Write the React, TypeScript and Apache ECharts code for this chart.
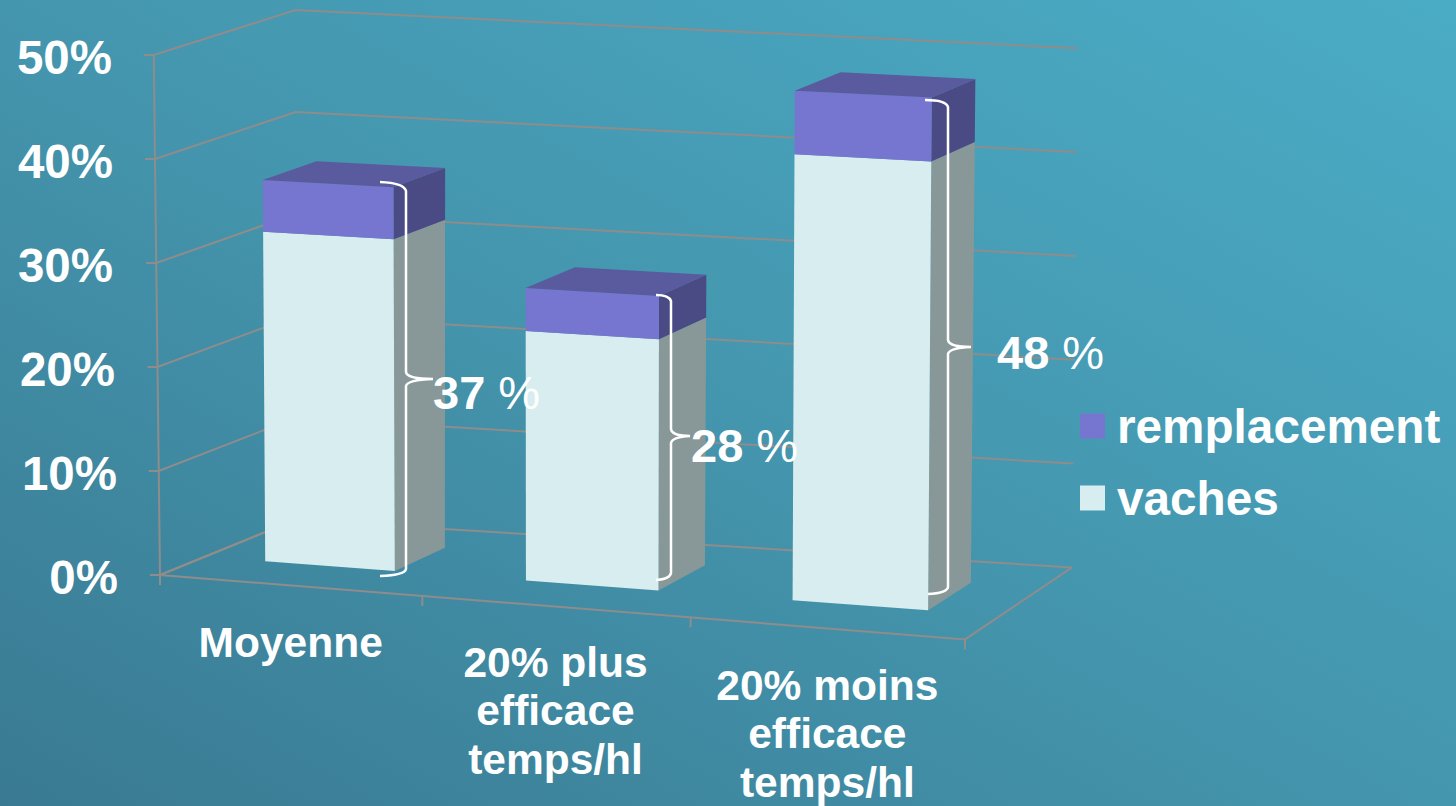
import React, { useEffect, useRef } from "react";
import * as echarts from "echarts";

const categories = ["Moyenne", "20% plus\nefficace\ntemps/hl", "20% moins\nefficace\ntemps/hl"];
const vaches = [31.8, 23.8, 42];
const remplacement = [5, 4.1, 6];
const totals = [37, 28, 48];
const yTicks = [0, 10, 20, 30, 40, 50];

const FONT = "Liberation Sans";
const lerp = (a: number, b: number, t: number) => a + (b - a) * t;

// 3D look: maps (category position, value, depth) onto the page through the cartesian axes.
function projector(api: any) {
  const c0 = api.coord([0, 0]);
  const band = api.size([1, 0])[0];
  const left = c0[0] - band / 2;
  const width = band * 3;
  return (u: number, v: number, d: number) => {
    const X = left + band * u + 3 * u * (u - 3);
    const t = v / 50;
    const f = (X - left) / width;
    const x = X + (X - 660) * 0.0125 * t + d * lerp(lerp(135, 142, t), lerp(107, 109, t), f);
    const y = api.coord([0, v])[1] + (X - left) * (0.08 - 0.0006 * v) + d * lerp(lerp(-55, -45, t), lerp(-72, -47, t), f);
    return [x, y];
  };
}

const GRID_COLOR = "#8f8c8c";
const lineEl = (points: number[][]) => ({
  type: "polyline",
  shape: { points },
  style: { stroke: GRID_COLOR, lineWidth: 2, fill: "none" },
  silent: true,
});

const renderWall = (_: any, api: any) => {
  const p = projector(api);
  const v = api.value(0);
  const a = p(0, v, 0);
  return {
    type: "group",
    children: [
      lineEl([[a[0] - 10, a[1]], a, p(0, v, 1), p(3, v, 1)]),
    ],
  };
};

const renderFloor = (_: any, api: any) => {
  const p = projector(api);
  const ticks = [0, 1, 2, 3].map((u) => {
    const a = p(u, 0, 0);
    return lineEl([a, [a[0], a[1] + 10]]);
  });
  return {
    type: "group",
    children: [
      lineEl([p(0, 50, 0), p(0, 0, 0), p(3, 0, 0), p(3, 0, 1)]),
      lineEl([p(0, 0, 0), p(0, 0, 1)]),
      ...ticks,
    ],
  };
};

const D0 = 0.33;
const D1 = 0.72;
const makeBar = (front: string, side: string, top: string | null) => (_: any, api: any) => {
  const p = projector(api);
  const i = api.value(0);
  const lo = api.value(1);
  const hi = api.value(2);
  const u0 = i + 0.236;
  const u1 = i + 0.736;
  const poly = (points: number[][], fill: string) => ({
    type: "polygon",
    shape: { points },
    style: { fill },
    silent: true,
  });
  const children: any[] = [
    poly([p(u1, lo, D0), p(u1, lo, D1), p(u1, hi, D1), p(u1, hi, D0)], side),
    poly([p(u0, lo, D0), p(u1, lo, D0), p(u1, hi, D0), p(u0, hi, D0)], front),
  ];
  if (top) children.push(poly([p(u0, hi, D0), p(u1, hi, D0), p(u1, hi, D1), p(u0, hi, D1)], top));
  return { type: "group", children };
};

const BRACES = [
  "M380 182 Q404 183 406 191 L406 372 Q407 379 433 379 Q407 380 406 386 L406 569 Q405 575 380 576",
  "M656 295 Q669 295 671 301 L671 429 Q672 436 690 436 Q672 437 671 443 L671 573 Q670 579 656 580",
  "M925 100 Q946 100 948 107 L948 340 Q949 347 971 347 Q949 348 948 354 L948 587 Q947 593 928 594",
];
BRACES.forEach((d, i) => {
  echarts.graphic.registerShape("brace" + i, echarts.graphic.extendPath(d, {}) as any);
});
const LABEL_POS = [
  [433, 392],
  [691, 445],
  [997, 352],
];

export default function App() {
  const ref = useRef<HTMLDivElement>(null);
  useEffect(() => {
    const chart = echarts.init(ref.current!, null, { renderer: "svg" });
    const yPad: Record<number, number> = { 0: 0, 10: 1, 20: 3, 30: 5, 40: 5, 50: 6 };
    const rich: any = {};
    yTicks.forEach((v) => {
      rich["t" + v] = {
        fontFamily: FONT,
        fontSize: 47.5,
        fontWeight: "bold",
        color: "#fff",
        padding: [5, yPad[v], 0, 0],
      };
    });
    const catPad = [
      [43, 7, 0, 0],
      [63, 14, 0, 0],
      [86, 7, 0, 0],
    ];
    chart.setOption({
      animation: false,
      backgroundColor: new echarts.graphic.LinearGradient(0, 1, 1, 0, [
        { offset: 0, color: "#397a92" },
        { offset: 0.5, color: "#4496ae" },
        { offset: 1, color: "#4bacc6" },
      ]),
      grid: { left: 160, width: 805, top: 55, height: 520, outerBoundsMode: "none" },
      xAxis: {
        type: "category",
        data: categories.map((c, i) => ({ value: c, textStyle: { padding: catPad[i] } })),
        axisLine: { show: false },
        axisTick: { show: false },
        axisLabel: {
          interval: 0,
          margin: 0,
          fontFamily: FONT,
          fontSize: 42.5,
          fontWeight: "bold",
          color: "#fff",
          lineHeight: 48.5,
        },
      },
      yAxis: {
        type: "value",
        min: 0,
        max: 50,
        interval: 10,
        axisLine: { show: false },
        axisTick: { show: false },
        splitLine: { show: false },
        axisLabel: {
          margin: 42,
          formatter: (v: number) => `{t${v}|${v}%}`,
          rich,
        },
      },
      legend: {
        orient: "vertical",
        left: 1080,
        top: 402,
        padding: 0,
        itemWidth: 25,
        itemHeight: 25,
        itemGap: 24,
        icon: "rect",
        data: ["remplacement", "vaches"],
        textStyle: { fontFamily: FONT, fontSize: 47.7, fontWeight: "bold", color: "#fff", padding: [0, 0, 0, 7] },
        selectedMode: false,
      },
      series: [
        { type: "custom", name: "murs", silent: true, renderItem: renderWall, data: yTicks.map((v) => [v]), encode: { y: 0 } },
        { type: "custom", name: "sol", silent: true, renderItem: renderFloor, data: [[0]] },
        {
          type: "custom",
          name: "vaches",
          silent: true,
          itemStyle: { color: "#d8edf0" },
          renderItem: makeBar("#d8edf0", "#889898", null),
          data: vaches.map((v, i) => [i, 0, v]),
          encode: { x: 0, y: [1, 2] },
        },
        {
          type: "custom",
          name: "remplacement",
          silent: true,
          itemStyle: { color: "#7676d0" },
          renderItem: makeBar("#7676d0", "#4a4a84", "#5a5a9e"),
          data: remplacement.map((v, i) => [i, vaches[i], vaches[i] + v]),
          encode: { x: 0, y: [1, 2] },
        },
      ],
      graphic: [
        ...BRACES.map((_, i) => ({
          type: "brace" + i,
          z: 100,
          silent: true,
          style: { stroke: "#fff", lineWidth: 2.5, fill: "none" },
        })),
        ...totals.map((t, i) => ({
          type: "text",
          z: 101,
          silent: true,
          x: LABEL_POS[i][0],
          y: LABEL_POS[i][1],
          style: {
            text: `{b|${t} }{r|%}`,
            fill: "#fff",
            verticalAlign: "middle",
            rich: {
              b: { fontFamily: FONT, fontSize: 47, fontWeight: "bold", fill: "#fff" },
              r: { fontFamily: FONT, fontSize: 47, fontWeight: "normal", fill: "#fff" },
            },
          },
        })),
      ],
    });
    return () => chart.dispose();
  }, []);
  return <div ref={ref} style={{ position: "fixed", left: 0, top: 0, width: 1456, height: 806 }} />;
}
